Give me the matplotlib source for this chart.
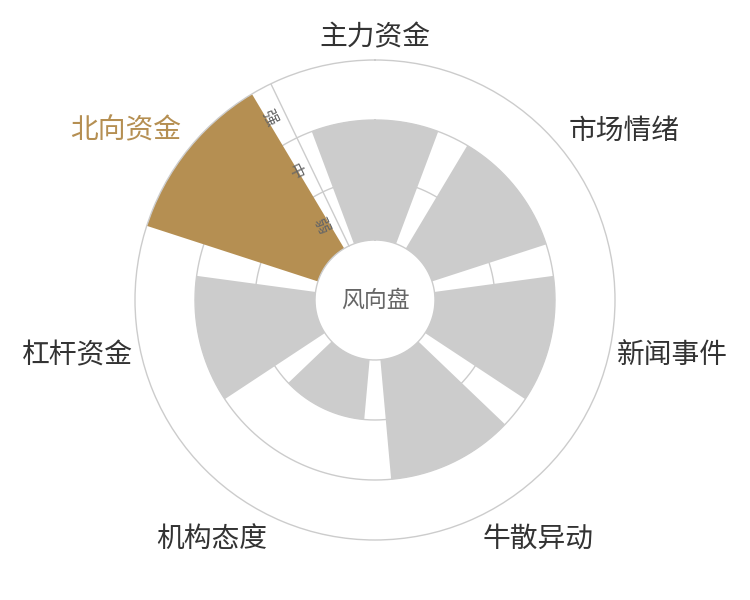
import numpy as np
import matplotlib
matplotlib.use("Agg")
import matplotlib.pyplot as plt
from matplotlib.transforms import offset_copy

plt.rcParams['font.family'] = ['Noto Sans CJK SC', 'DejaVu Sans']

categories = ["主力资金", "市场情绪", "新闻事件", "牛散异动", "机构态度", "杠杆资金", "北向资金"]
levels = ["弱", "中", "强"]
values = [2, 2, 2, 2, 1, 2, 3]   # 1 = 弱, 2 = 中, 3 = 强
highlight = "北向资金"
center_label = "风向盘"

GRAY = "#cccccc"
GOLD = "#b58f52"
LINE = "#cccccc"

n = len(categories)
step = 2 * np.pi / n
angles = np.arange(n) * step
outer = len(levels) + 1

fig = plt.figure(figsize=(7.5, 6), dpi=100)
ax = fig.add_axes([0.18, 0.1, 0.64, 0.8], projection="polar")
ax.set_theta_zero_location("N")
ax.set_theta_direction(-1)
ax.set_ylim(0, outer)
ax.grid(False)
ax.set_xticks([])
ax.set_yticks([])
ax.spines["polar"].set_color(LINE)
ax.spines["polar"].set_linewidth(1)

# split circles + radius axis line
full = np.linspace(0, 2 * np.pi, 721)
for r in range(2, outer):
    ax.plot(full, np.full_like(full, r), color=LINE, lw=1, zorder=1)
start = -step / 2
ax.plot([start, start], [1, outer], color=LINE, lw=1, zorder=1)

# bars
colors = [GOLD if c == highlight else GRAY for c in categories]
ax.bar(angles, values, width=step * 0.8, bottom=1, color=colors, linewidth=0, zorder=2)

# inner hole
ax.plot(full, np.ones_like(full), color=LINE, lw=1, zorder=3)
ax.text(0, 0, center_label, ha="center", va="center", fontsize=16.5, color="#666666")

# category labels around the outside
for ang, cat in zip(angles, categories):
    sx, cy = np.sin(ang), np.cos(ang)
    ha = "center" if abs(sx) < 0.3 else ("left" if sx > 0 else "right")
    va = "center" if abs(cy) < 0.3 else ("bottom" if cy > 0 else "top")
    tr = offset_copy(ax.transData, fig=fig, x=8 * sx, y=8 * cy, units="dots")
    ax.text(ang, outer, cat, transform=tr, ha=ha, va=va, fontsize=20,
            color=GOLD if cat == highlight else "#333333")

# radius axis labels, written along the axis
axis_deg = 90 + np.degrees(step / 2)
side = np.radians(axis_deg + 90)
tr = offset_copy(ax.transData, fig=fig, x=8 * np.cos(side), y=8 * np.sin(side), units="dots")
for i, lv in enumerate(levels):
    ax.text(start, 1.5 + i, lv, transform=tr, rotation=axis_deg - 180,
            rotation_mode="anchor", ha="center", va="top", fontsize=11.5, color="#666666")

fig.savefig("out.png", dpi=100, facecolor="white")
